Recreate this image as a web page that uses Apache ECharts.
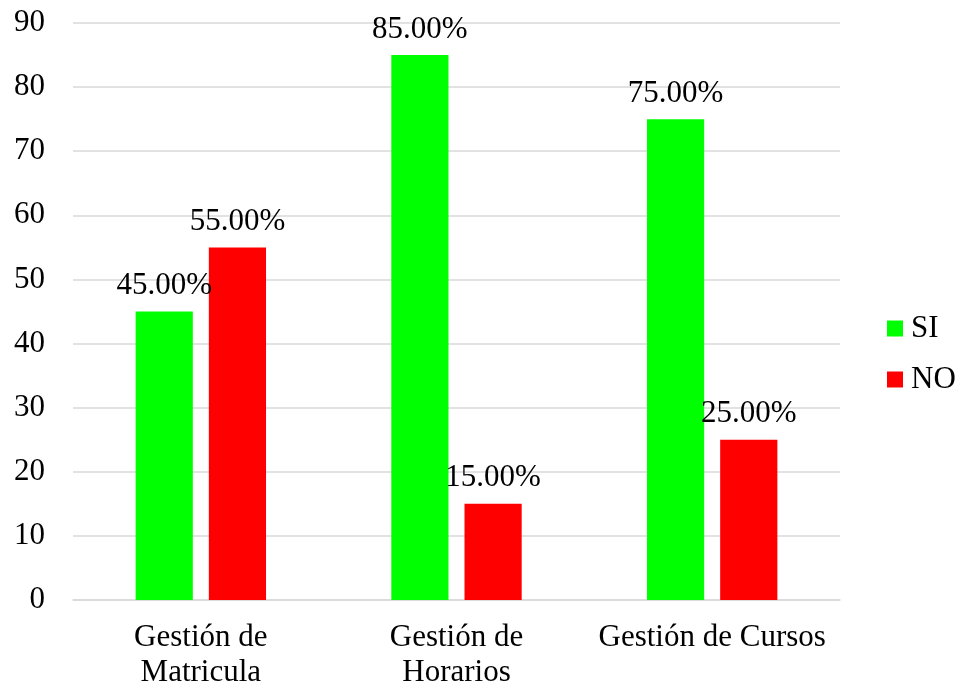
<!DOCTYPE html>
<html>
<head>
<meta charset="utf-8">
<style>
  html, body { margin: 0; padding: 0; background: #ffffff; }
  #chart { width: 957px; height: 690px; }
</style>
<script src="https://cdn.jsdelivr.net/npm/echarts@6/dist/echarts.min.js"></script>
</head>
<body>
<div id="chart"></div>
<script>
// Survey results per module (percent of respondents)
const categories = ['Gestión de\nMatricula', 'Gestión de\nHorarios', 'Gestión de Cursos'];
const seriesNames = ['SI', 'NO'];
const siValues = [45, 85, 75];
const noValues = [55, 15, 25];
const yTicks = { min: 0, max: 90, interval: 10 };

const FONT = '"Liberation Serif", "Times New Roman", serif';
const FS = 31;

const chart = echarts.init(document.getElementById('chart'), null, { renderer: 'canvas' });

const barLabel = {
  show: true,
  position: 'top',
  distance: 10,
  color: '#000',
  fontFamily: FONT,
  fontSize: FS,
  formatter: p => p.value.toFixed(2) + '%'
};

chart.setOption({
  animation: false,
  backgroundColor: '#ffffff',
  grid: { left: 73, right: 117, top: 23, bottom: 87, containLabel: false },
  legend: {
    orient: 'vertical',
    left: 882,
    top: 308,
    itemWidth: 16,
    itemHeight: 16,
    itemGap: 20,
    icon: 'rect',
    data: seriesNames,
    textStyle: { fontFamily: FONT, fontSize: FS, color: '#000', padding: [0, 0, 0, 3] }
  },
  xAxis: {
    type: 'category',
    data: categories,
    axisLine: { show: true, lineStyle: { color: '#d9d9d9', width: 1.5 } },
    axisTick: { show: false },
    axisLabel: {
      color: '#000',
      fontFamily: FONT,
      fontSize: FS,
      lineHeight: 35,
      margin: 20,
      interval: 0
    }
  },
  yAxis: {
    type: 'value',
    min: yTicks.min,
    max: yTicks.max,
    interval: yTicks.interval,
    axisLine: { show: false },
    axisTick: { show: false },
    splitLine: { show: true, lineStyle: { color: '#d9d9d9', width: 1.5 } },
    axisLabel: {
      color: '#000',
      fontFamily: FONT,
      fontSize: FS,
      margin: 28
    }
  },
  series: [
    {
      name: seriesNames[0],
      type: 'bar',
      data: siValues,
      itemStyle: { color: '#00ff00' },
      barGap: '28%',
      barCategoryGap: '49%',
      label: barLabel
    },
    {
      name: seriesNames[1],
      type: 'bar',
      data: noValues,
      itemStyle: { color: '#ff0000' },
      barGap: '28%',
      barCategoryGap: '49%',
      label: barLabel
    }
  ]
});
</script>
</body>
</html>
